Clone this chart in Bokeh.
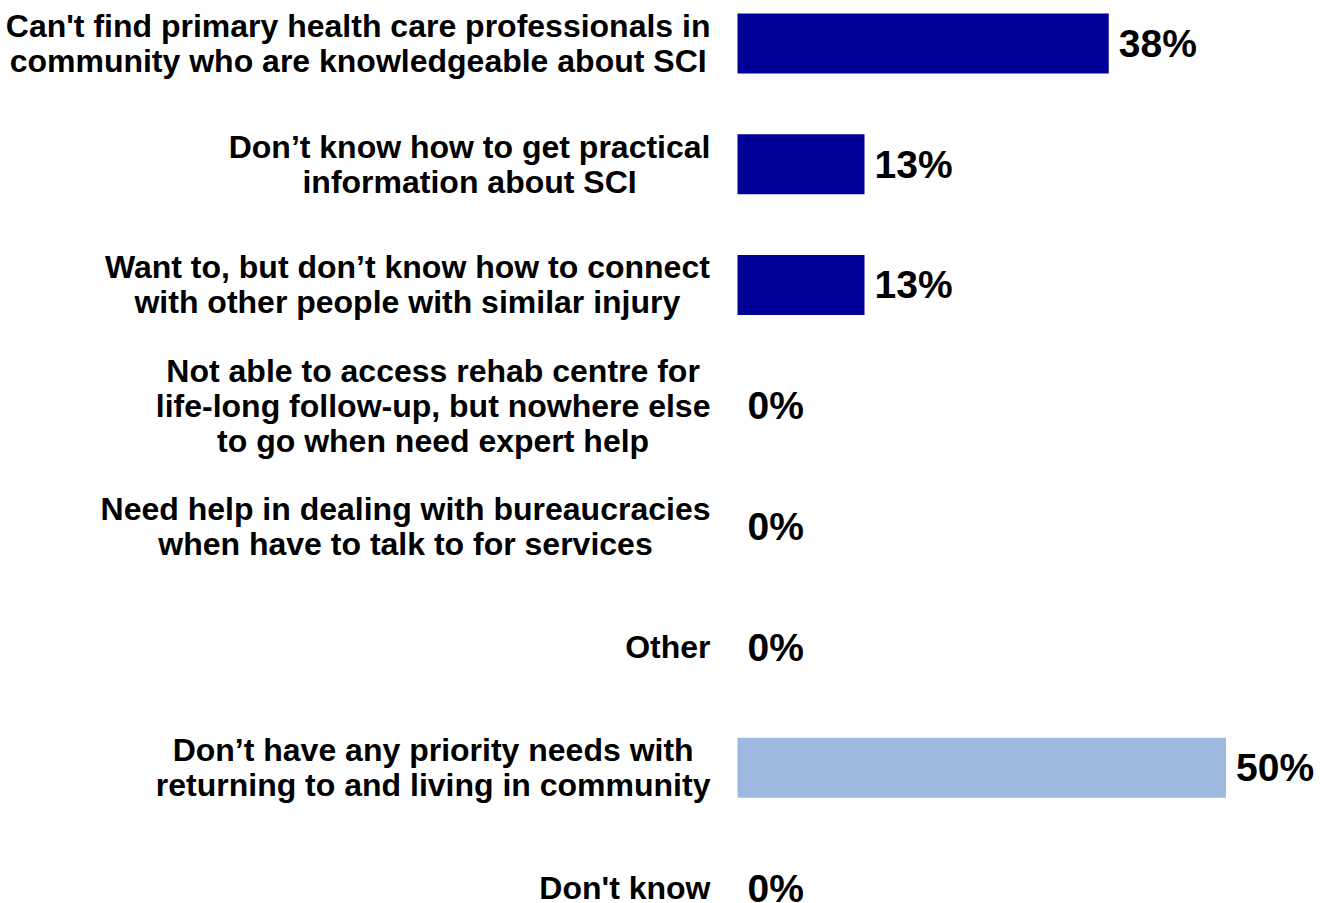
from bokeh.plotting import figure
from bokeh.models import ColumnDataSource, Range1d
from bokeh.embed import file_html
from bokeh.resources import INLINE
from bokeh.core.properties import value

# ---- data ----
categories = [
    "Can't find primary health care professionals in\ncommunity who are knowledgeable about SCI",
    "Don\u2019t know how to get practical\ninformation about SCI",
    "Want to, but don\u2019t know how to connect\nwith other people with similar injury",
    "Not able to access rehab centre for\nlife-long follow-up, but nowhere else\nto go when need expert help",
    "Need help in dealing with bureaucracies\nwhen have to talk to for services",
    "Other",
    "Don\u2019t have any priority needs with\nreturning to and living in community",
    "Don't know",
]
percentages = [38, 13, 13, 0, 0, 0, 50, 0]
highlight = [False, False, False, False, False, False, True, False]

# ---- styles ----
DARK = "#000099"
LIGHT = "#9DB9E0"
FONT = "Liberation Sans"
LABEL_PX = 32
VALUE_PX = 39
PX_PER_PCT = 9.77
ROW_PX = 120.71
W, H = 1320, 903
ORIGIN_PX = 737      # frame x of the 0% baseline
FIRST_ROW_PX = 43    # frame y of first row centre
GAP = 27             # gap between label block and bars

# Arial/Liberation Sans Bold advance widths (per 1000 em)
ADV = {" ": 278, "'": 238, "\u2019": 278, ",": 278, "-": 333, ".": 278, "%": 889}
ADV.update({c: 556 for c in "0123456789"})
ADV.update(dict(zip("ABCDEFGHIJKLMNOPQRSTUVWXYZ",
    [722, 722, 722, 722, 667, 611, 778, 722, 278, 556, 722, 611, 833, 722, 778, 667,
     778, 722, 667, 611, 722, 667, 944, 667, 667, 611])))
ADV.update(dict(zip("abcdefghijklmnopqrstuvwxyz",
    [556, 611, 556, 611, 556, 333, 611, 611, 278, 278, 556, 278, 889, 611, 611, 611,
     611, 389, 556, 333, 611, 556, 778, 556, 556, 500])))


def block_width(s, px):
    return max(sum(ADV.get(ch, 556) for ch in line) for line in s.split("\n")) * px / 1000.0


idx = list(range(len(categories)))
colors = [LIGHT if h else DARK for h in highlight]
label_offsets = [-(GAP + block_width(c, LABEL_PX) / 2.0) for c in categories]
value_texts = [f"{v}%" for v in percentages]

src = ColumnDataSource(dict(y=idx, v=percentages, c=colors, lab=categories,
                            loff=label_offsets, vt=value_texts,
                            zero=[0] * len(idx)))

x0 = -ORIGIN_PX / PX_PER_PCT
x1 = (W - ORIGIN_PX) / PX_PER_PCT
ytop = -FIRST_ROW_PX / ROW_PX
ybot = (H - FIRST_ROW_PX) / ROW_PX

p = figure(width=W, height=H, x_range=Range1d(x0, x1), y_range=Range1d(ybot, ytop),
           toolbar_location=None, output_backend="svg", min_border=0)
p.axis.visible = False
p.grid.visible = False
p.outline_line_color = None
p.background_fill_color = "white"

p.hbar(y="y", left=0, right="v", height=60 / ROW_PX, fill_color="c",
       line_color=None, source=src)

p.text(x="zero", y="y", text="lab", x_offset="loff", text_align="center",
       text_baseline="middle", text_font=value(FONT), text_font_style="bold",
       text_font_size=f"{LABEL_PX}px", text_line_height=0.97, text_color="black",
       source=src)

p.text(x="v", y="y", text="vt", x_offset=10, text_align="left",
       text_baseline="middle", text_font=value(FONT), text_font_style="bold",
       text_font_size=f"{VALUE_PX}px", text_color="black", source=src)

open("out.html", "w").write(file_html(p, INLINE))
